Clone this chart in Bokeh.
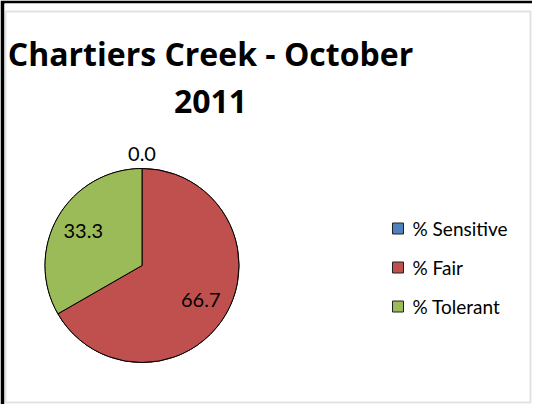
import numpy as np
from bokeh.plotting import figure
from bokeh.models import Range1d, ColumnDataSource, BoxAnnotation
from bokeh.core.properties import value
from bokeh.embed import file_html
from bokeh.resources import INLINE

title_lines = ["Chartiers Creek - October", "2011"]
categories = ["% Sensitive", "% Fair", "% Tolerant"]
values = [0.0, 66.7, 33.3]
colors = ["#4F81BD", "#C0504D", "#9BBB59"]

W, H = 532, 404
p = figure(width=W, height=H, x_range=Range1d(4, W), y_range=Range1d(0, H - 3),
           output_backend="svg", toolbar_location=None,
           min_border_left=4, min_border_top=3, min_border_right=0, min_border_bottom=0)
p.axis.visible = False
p.grid.visible = False
p.outline_line_color = None
p.background_fill_color = "white"
p.border_fill_color = "black"

# inner grey frame
p.add_layout(BoxAnnotation(left=5, right=530, top=H - 11, bottom=2,
                           fill_alpha=0, line_color="#A0A0A0", line_width=2))

FONT = "Lato"

# title
p.text(x=[210, 210], y=[H - 52.5, H - 100.8], text=title_lines,
       text_font=value("Open Sans"), text_font_style="bold", text_font_size="32px",
       text_align="center", text_baseline="middle", text_color="black")

# pie
cx, cy, R = 141.5, H - 265, 97
vals = np.array(values, dtype=float)
frac = vals / vals.sum()
ends = np.cumsum(frac)
starts = ends - frac
start_ang = np.pi / 2 - 2 * np.pi * starts
end_ang = np.pi / 2 - 2 * np.pi * ends

src = ColumnDataSource(dict(cat=categories, val=values, color=colors,
                            start=start_ang, end=end_ang))
p.wedge(x=cx, y=cy, radius=R, start_angle="start", end_angle="end",
        direction="clock", fill_color="color", line_color="black",
        line_width=1, source=src)

# data labels
mid = 2 * np.pi * (starts + ends) / 2
lr = np.where(vals > 0, 0.7 * R, R + 15)
lx = cx + lr * np.sin(mid)
ly = cy + lr * np.cos(mid)
p.text(x=lx, y=ly, text=[f"{v:.1f}" for v in values],
       text_font=value(FONT), text_font_size="20px",
       text_align="center", text_baseline="middle", text_color="black")

# legend
spacing = 39
leg_y = (H - 267) + spacing - spacing * np.arange(len(categories))
p.scatter(x=[397.5] * len(categories), y=leg_y, marker="square", size=11,
          fill_color=colors, line_color="#202020", line_width=1)
p.text(x=[412] * len(categories), y=leg_y, text=categories,
       text_font=value(FONT), text_font_size="19px",
       text_align="left", text_baseline="middle", text_color="black")

open("out.html", "w").write(file_html(p, INLINE))
